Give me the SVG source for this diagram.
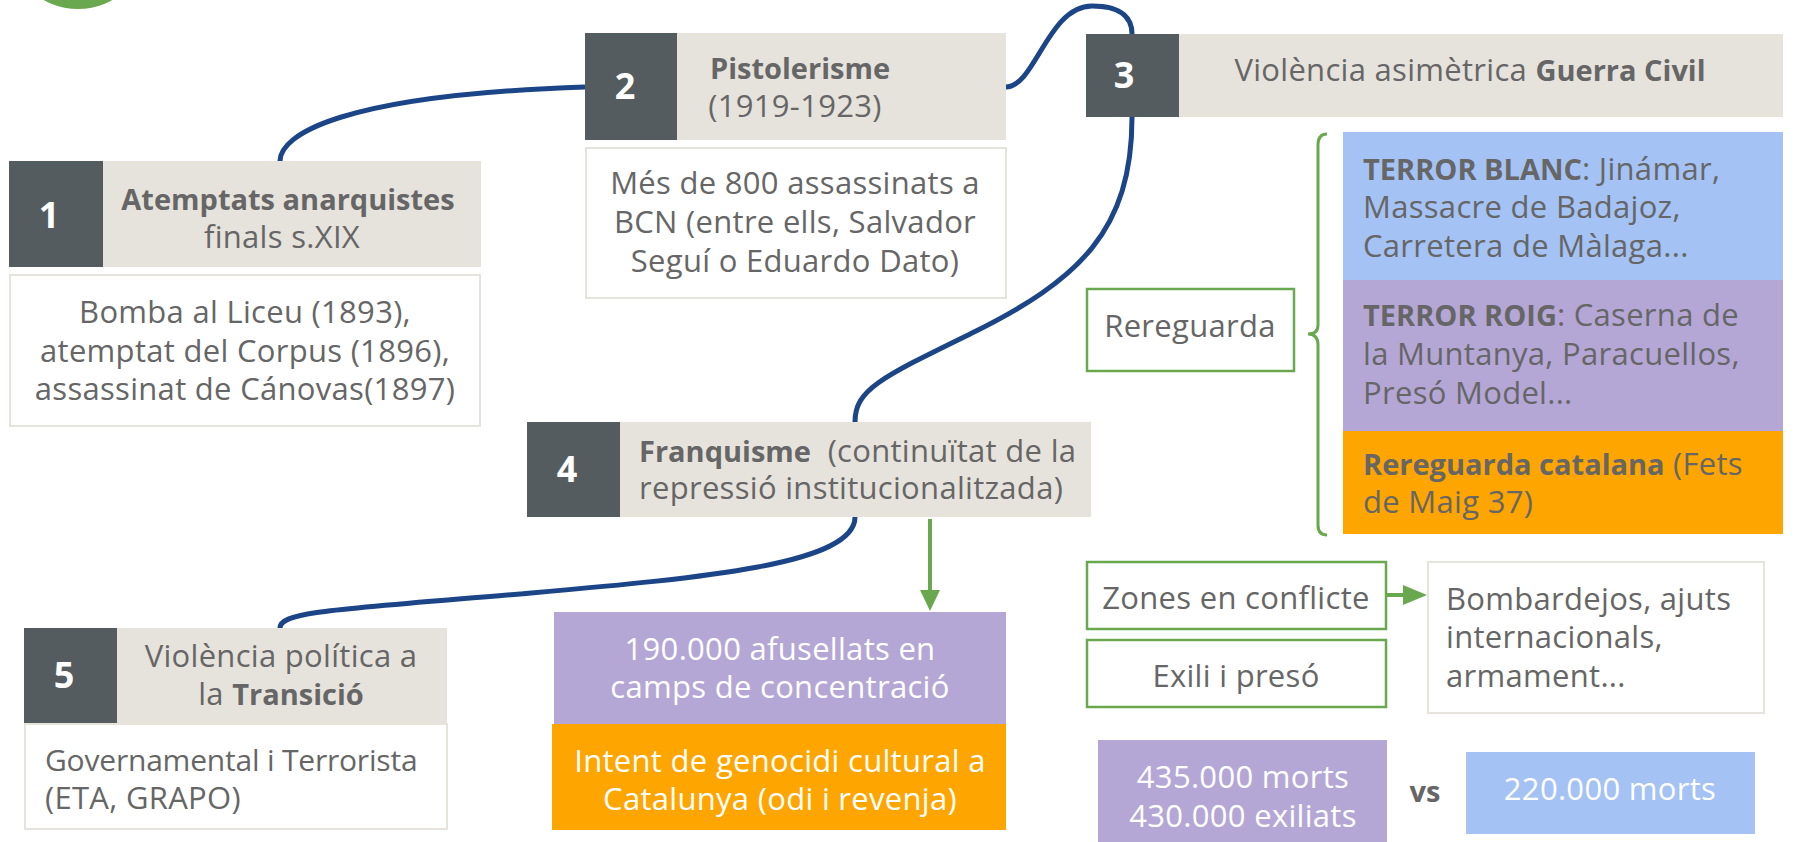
<svg xmlns="http://www.w3.org/2000/svg" width="1796" height="842" viewBox="0 0 1796 842">
<style>
.t{font-family:"Open Sans","Liberation Sans",sans-serif;font-size:31px;letter-spacing:0.3px;fill:#666666}
.c{text-anchor:middle}
.b{font-weight:bold;font-size:29px;letter-spacing:0}
.w{fill:#ffffff}
.num{font-family:"Open Sans","Liberation Sans",sans-serif;font-size:36px;font-weight:bold;fill:#ffffff;text-anchor:middle}
.dark{fill:#545c5f}
.beige{fill:#e6e3dc}
.body{fill:#ffffff;stroke:#e6e3dc;stroke-width:2}
.gbox{fill:#ffffff;stroke:#6aa84f;stroke-width:2.5}
.blue{fill:#a4c2f4}
.purple{fill:#b4a7d6}
.orange{fill:#ffa500}
.conn{fill:none;stroke:#1c4587;stroke-width:5}
.garr{fill:none;stroke:#6aa84f;stroke-width:4}
</style>
<circle cx="78" cy="-61" r="70" fill="#6aa84f"/>

<g id="connectors">
<path class="conn" d="M280,161 C280,135 340,95 585,87"/>
<path class="conn" d="M1006,87 C1035,87 1048,6 1092,6 C1124,6 1132,20 1132,34"/>
<path class="conn" d="M1132,117 C1132,230 1080,280 970,334 C880,378 855,390 855,422"/>
<path class="conn" d="M855,517 C855,565 700,578 520,594 C330,610 280,612 280,628"/>
<path class="garr" d="M930,519 L930,592"/>
<path d="M920,590 L940,590 L930,611 Z" fill="#6aa84f"/>
<path class="garr" d="M1386,595 L1405,595"/>
<path d="M1403,585 L1403,605 L1427,595 Z" fill="#6aa84f"/>
<path d="M1327,134 Q1318,134 1318,145 L1318,325 Q1318,334 1308,334 Q1318,334 1318,345 L1318,525 Q1318,535 1327,535" fill="none" stroke="#6aa84f" stroke-width="3"/>
</g>

<g id="node1">
<rect class="dark" x="9" y="161" width="94" height="106"/>
<rect class="beige" x="103" y="161" width="378" height="106"/>
<text class="num" x="49" y="228">1</text>
<text class="t c b" x="288" y="210">Atemptats anarquistes</text>
<text class="t c" x="282" y="248">finals s.XIX</text>
<rect class="body" x="10" y="275" width="470" height="151"/>
<text class="t c" x="245" y="323">Bomba al Liceu (1893),</text>
<text class="t c" x="245" y="362">atemptat del Corpus (1896),</text>
<text class="t c" x="245" y="400">assassinat de Cánovas(1897)</text>
</g>

<g id="node2">
<rect class="dark" x="585" y="33" width="92" height="107"/>
<rect class="beige" x="677" y="33" width="329" height="107"/>
<text class="num" x="625" y="99">2</text>
<text class="t c b" x="800" y="79">Pistolerisme</text>
<text class="t c" x="795" y="117">(1919-1923)</text>
<rect class="body" x="586" y="148" width="420" height="150"/>
<text class="t c" x="795" y="194">Més de 800 assassinats a</text>
<text class="t c" x="795" y="233">BCN (entre ells, Salvador</text>
<text class="t c" x="795" y="272">Seguí o Eduardo Dato)</text>
</g>

<g id="node3">
<rect class="dark" x="1086" y="34" width="93" height="83"/>
<rect class="beige" x="1179" y="34" width="604" height="83"/>
<text class="num" x="1124" y="88">3</text>
<text class="t c" x="1470" y="81">Violència asimètrica <tspan class="b">Guerra Civil</tspan></text>
</g>

<g id="terror-blanc">
<rect class="blue" x="1343" y="132" width="440" height="148"/>
<text class="t" x="1363" y="180"><tspan class="b">TERROR BLANC</tspan>: Jinámar,</text>
<text class="t" x="1363" y="218">Massacre de Badajoz,</text>
<text class="t" x="1363" y="257">Carretera de Màlaga...</text>
</g>
<g id="terror-roig">
<rect class="purple" x="1343" y="280" width="440" height="151"/>
<text class="t" x="1363" y="326"><tspan class="b">TERROR ROIG</tspan>: Caserna de</text>
<text class="t" x="1363" y="365">la Muntanya, Paracuellos,</text>
<text class="t" x="1363" y="404">Presó Model...</text>
</g>
<g id="rereguarda-catalana">
<rect class="orange" x="1343" y="431" width="440" height="103"/>
<text class="t" x="1363" y="475"><tspan class="b">Rereguarda catalana</tspan> (Fets</text>
<text class="t" x="1363" y="513">de Maig 37)</text>
</g>
<g id="rereguarda">
<rect class="gbox" x="1087" y="289" width="207" height="82"/>
<text class="t c" x="1190" y="337">Rereguarda</text>
</g>

<g id="zones">
<rect class="gbox" x="1087" y="562" width="299" height="67"/>
<text class="t c" x="1236" y="609">Zones en conflicte</text>
</g>
<g id="exili">
<rect class="gbox" x="1087" y="640" width="299" height="67"/>
<text class="t c" x="1236" y="687">Exili i presó</text>
</g>
<g id="bombardejos">
<rect class="body" x="1428" y="562" width="336" height="151"/>
<text class="t" x="1446" y="610">Bombardejos, ajuts</text>
<text class="t" x="1446" y="648">internacionals,</text>
<text class="t" x="1446" y="687">armament...</text>
</g>

<g id="morts-435">
<rect class="purple" x="1098" y="740" width="289" height="102"/>
<text class="t c w" x="1243" y="788">435.000 morts</text>
<text class="t c w" x="1243" y="827">430.000 exiliats</text>
</g>
<g id="vs">
<text class="t c b" x="1425" y="802">vs</text>
</g>
<g id="morts-220">
<rect class="blue" x="1466" y="752" width="289" height="82"/>
<text class="t c w" x="1610" y="800">220.000 morts</text>
</g>

<g id="node4">
<rect class="dark" x="527" y="422" width="93" height="95"/>
<rect class="beige" x="620" y="422" width="471" height="95"/>
<text class="num" x="567" y="482">4</text>
<text class="t" x="639" y="462"><tspan class="b">Franquisme</tspan>&#160; (continuïtat de la</text>
<text class="t" x="639" y="499">repressió institucionalitzada)</text>
</g>
<g id="afusellats">
<rect class="purple" x="554" y="612" width="452" height="112"/>
<text class="t c w" x="780" y="660">190.000 afusellats en</text>
<text class="t c w" x="780" y="698">camps de concentració</text>
</g>
<g id="genocidi">
<rect class="orange" x="552" y="724" width="454" height="106"/>
<text class="t c w" x="780" y="772">Intent de genocidi cultural a</text>
<text class="t c w" x="780" y="810">Catalunya (odi i revenja)</text>
</g>

<g id="node5">
<rect class="dark" x="24" y="628" width="93" height="95"/>
<rect class="beige" x="117" y="628" width="330" height="95"/>
<text class="num" x="64" y="688">5</text>
<text class="t c" x="281" y="667">Violència política a</text>
<text class="t c" x="281" y="705">la <tspan class="b">Transició</tspan></text>
<rect class="body" x="25" y="724" width="422" height="105"/>
<text class="t" x="45" y="771" style="font-size:30px;letter-spacing:-0.2px">Governamental i Terrorista</text>
<text class="t" x="45" y="809">(ETA, GRAPO)</text>
</g>
</svg>
